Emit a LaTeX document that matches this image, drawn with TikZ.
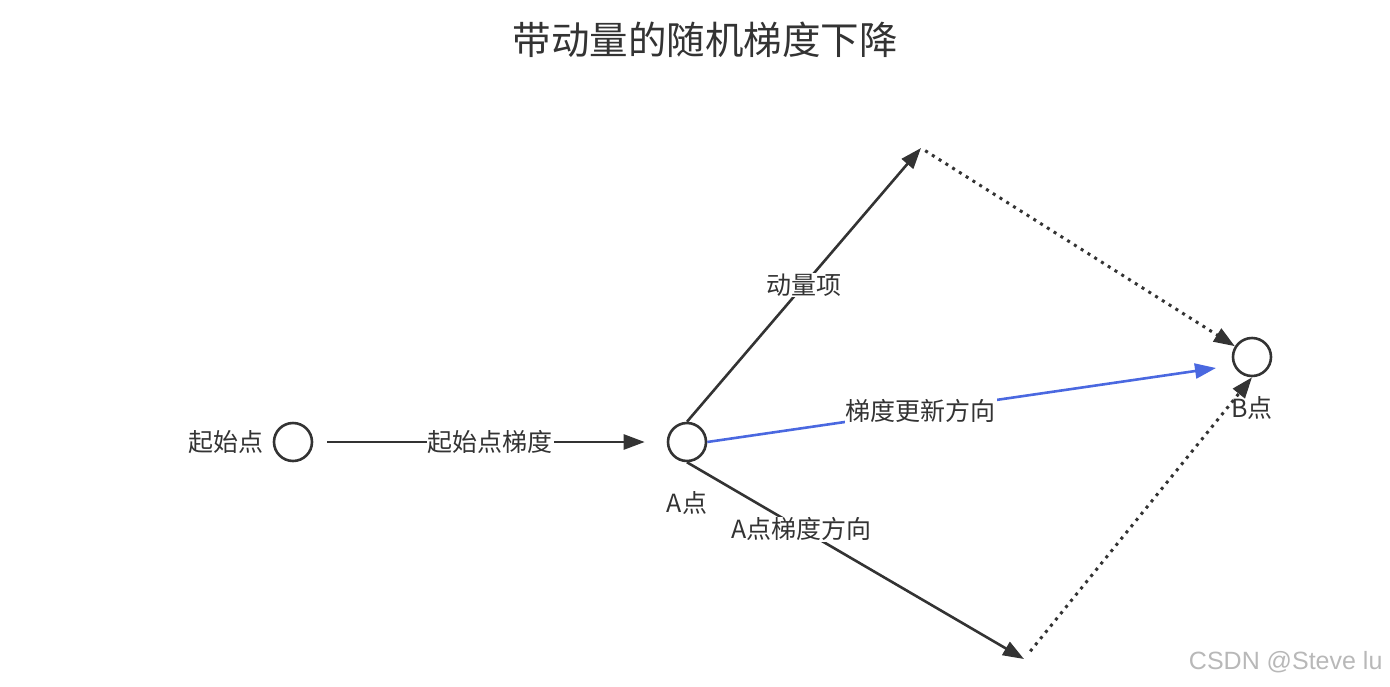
\documentclass[tikz,border=0pt]{standalone}
\usepackage{fontspec}
\setmainfont{Noto Sans CJK SC}
\newfontfamily\wmfont{Liberation Sans}
\usepackage{xcolor}
\usetikzlibrary{arrows.meta, positioning}

\definecolor{ink}{HTML}{333333}
\definecolor{updblue}{HTML}{4A68E0}

\tikzset{
    pt/.style={circle, draw=ink, line width=2.6pt, minimum size=38pt, inner sep=0pt},
    lbl/.style={font=\fontsize{25}{29}\selectfont, text=ink},
    onedge/.style={lbl, fill=white, inner sep=1pt},
    arr/.style={draw=ink, line width=2.6pt, -{Triangle[length=21pt,width=15pt]}},
    dots/.style={arr, line width=3pt, dash pattern=on 3pt off 5pt}
}

\begin{document}
\begin{tikzpicture}[x=1pt, y=-1pt]
        \useasboundingbox (0,0) rectangle (1390,686);
        \node[font=\fontsize{38.5}{42}\selectfont, text=ink] (title) at (705,40) {带动量的随机梯度下降};
%
        \node[pt] (start) at (293,442) {};
        \node[pt] (A) at (687,442) {};
        \node[pt] (B) at (1252,357) {};
        \node[lbl, left=6pt of start] (startlbl) {起始点};
        \node[lbl, below=26pt of A] (Albl) {A点};
        \node[lbl, below=16pt of B] (Blbl) {B点};
        \coordinate (top) at (921,148);
        \coordinate (bot) at (1024,659);
        \coordinate (updend) at (1216,368);
%
        \path
        (start) edge [arr, shorten <=14pt, shorten >=22pt] node[onedge]{起始点梯度} (A)
        (A.north) edge [arr] node[onedge]{动量项} (top)
        (A.south) edge [arr] node[onedge, pos=0.34]{A点梯度方向} (bot)
        (A.east) edge [arr, draw=updblue] node[onedge, pos=0.42]{梯度更新方向} (updend)
        (top) edge [dots, shorten <=5pt] (B)
        (bot) edge [dots, shorten <=10pt] (B.south);
%
        \node[font=\wmfont\fontsize{25}{29}\selectfont, text=black!28, anchor=east] (wm) at (1386,662) {CSDN @Steve lu};
\end{tikzpicture}
\end{document}
